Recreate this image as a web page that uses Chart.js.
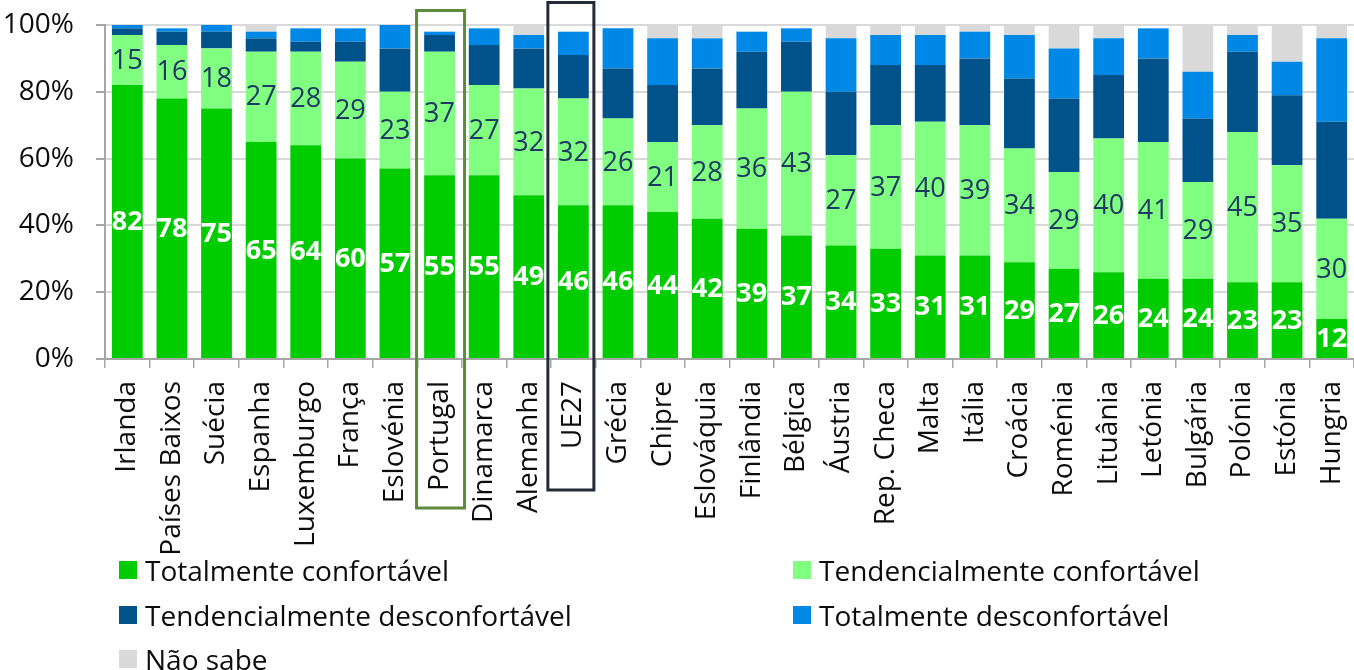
<!DOCTYPE html>
<html>
<head>
<meta charset="utf-8">
<script src="https://cdn.jsdelivr.net/npm/chart.js@4.4.1/dist/chart.umd.min.js"></script>
<style>
    body { margin: 0; background: #ffffff; overflow: hidden; }
    .chartbox { position: relative; width: 1354px; height: 670px; }
    #legend {
        position: absolute; left: 119px; top: 548px;
        display: grid; grid-template-columns: 674px auto; grid-auto-rows: 44.5px;
        font-family: 'Open Sans', sans-serif; font-size: 28px; color: #0d0d0d;
    }
    #legend .item { display: flex; align-items: center; white-space: nowrap; }
    #legend .box { width: 18px; height: 18px; margin-right: 8px; flex: none; }
</style>
</head>
<body>
<div class="chartbox">
    <canvas id="comfortchart"></canvas>
    <div id="legend"></div>
</div>
<script>
'use strict'

var paises = ['Irlanda', 'Países Baixos', 'Suécia', 'Espanha', 'Luxemburgo', 'França', 'Eslovénia', 'Portugal',
    'Dinamarca', 'Alemanha', 'UE27', 'Grécia', 'Chipre', 'Eslováquia', 'Finlândia', 'Bélgica', 'Áustria',
    'Rep. Checa', 'Malta', 'Itália', 'Croácia', 'Roménia', 'Lituânia', 'Letónia', 'Bulgária', 'Polónia',
    'Estónia', 'Hungria'];

var totalmenteConfortavel = [82, 78, 75, 65, 64, 60, 57, 55, 55, 49, 46, 46, 44, 42, 39, 37, 34, 33, 31, 31, 29, 27, 26, 24, 24, 23, 23, 12];
var tendConfortavel = [15, 16, 18, 27, 28, 29, 23, 37, 27, 32, 32, 26, 21, 28, 36, 43, 27, 37, 40, 39, 34, 29, 40, 41, 29, 45, 35, 30];
var tendDesconfortavel = [2, 4, 5, 4, 3, 6, 13, 5, 12, 12, 13, 15, 17, 17, 17, 15, 19, 18, 17, 20, 21, 22, 19, 25, 19, 24, 21, 29];
var totalmenteDesconfortavel = [1, 1, 2, 2, 4, 4, 7, 1, 5, 4, 7, 12, 14, 9, 6, 4, 16, 9, 9, 8, 13, 15, 11, 9, 14, 5, 10, 25];
var naoSabe = [0, 0, 0, 2, 0, 0, 0, 0, 0, 3, 0, 0, 4, 4, 0, 0, 4, 3, 3, 2, 3, 7, 4, 0, 14, 3, 11, 4];

var yTickLabels = ['0%', '20%', '40%', '60%', '80%', '100%'];

/* columns that get a frame around them */
var destaques = [
    { pais: 'Portugal', color: '#5b8b3b', half: 24, shift: 1, top: 10.5, bottom: 508 },
    { pais: 'UE27', color: '#232b38', half: 23, shift: -2.5, top: 2.5, bottom: 490 }
];

var fontFamily = "'Open Sans', sans-serif";

/* value labels in the middle of each segment */
var segmentLabels = {
    id: 'segmentLabels',
    afterDatasetsDraw: function (chart) {
        var ctx = chart.ctx;
        chart.data.datasets.forEach(function (ds, di) {
            if (!ds.valueLabel) return;
            var meta = chart.getDatasetMeta(di);
            ctx.save();
            ctx.font = ds.valueLabel.weight + ' 27px ' + fontFamily;
            ctx.fillStyle = ds.valueLabel.color;
            ctx.textAlign = 'center';
            ctx.textBaseline = 'middle';
            meta.data.forEach(function (bar, i) {
                var p = bar.getProps(['x', 'y', 'base'], true);
                ctx.fillText(String(ds.data[i]), p.x, (p.y + p.base) / 2 + 1);
            });
            ctx.restore();
        });
    }
};

/* frames around highlighted columns */
var columnFrames = {
    id: 'columnFrames',
    afterDraw: function (chart) {
        var ctx = chart.ctx;
        var x = chart.scales.x;
        ctx.save();
        ctx.lineWidth = 3;
        destaques.forEach(function (d) {
            var cx = x.getPixelForValue(paises.indexOf(d.pais)) + d.shift;
            ctx.strokeStyle = d.color;
            ctx.strokeRect(cx - d.half, d.top, d.half * 2, d.bottom - d.top);
        });
        ctx.restore();
    }
};

function serie(label, data, color, valueLabel) {
    return {
        label: label,
        data: data,
        backgroundColor: color,
        borderWidth: 0,
        barPercentage: 0.69,
        categoryPercentage: 1,
        valueLabel: valueLabel
    };
}

window.addEventListener('load', function () {
    var ctx = document.getElementById('comfortchart').getContext('2d');

    var config = {
        type: 'bar',
        data: {
            labels: paises,
            datasets: [
                serie('Totalmente confortável', totalmenteConfortavel, '#00cc00', { color: '#ffffff', weight: 'bold' }),
                serie('Tendencialmente confortável', tendConfortavel, '#80ff80', { color: '#1f3864', weight: 'normal' }),
                serie('Tendencialmente desconfortável', tendDesconfortavel, '#00528a', null),
                serie('Totalmente desconfortável', totalmenteDesconfortavel, '#0088e6', null),
                serie('Não sabe', naoSabe, '#d9d9d9', null)
            ]
        },
        options: {
            responsive: true,
            maintainAspectRatio: false,
            animation: false,
            layout: {
                padding: { top: 25, left: 0, right: 0, bottom: 0 }
            },
            plugins: {
                legend: { display: false },
                tooltip: { enabled: false }
            },
            scales: {
                x: {
                    stacked: true,
                    grid: {
                        offset: true,
                        drawOnChartArea: false,
                        tickLength: 9,
                        tickColor: '#a6a6a6',
                        lineWidth: 1.5
                    },
                    border: { color: '#a6a6a6', width: 2 },
                    ticks: {
                        autoSkip: false,
                        minRotation: 90,
                        maxRotation: 90,
                        padding: 13,
                        color: '#0d0d0d',
                        font: { family: fontFamily, size: 28 }
                    },
                    afterFit: function (scale) {
                        scale.height = 311;
                        scale.paddingLeft = 0;
                        scale.paddingRight = 0;
                    }
                },
                y: {
                    stacked: true,
                    min: 0,
                    max: 100,
                    ticks: {
                        stepSize: 20,
                        padding: 22,
                        color: '#0d0d0d',
                        font: { family: fontFamily, size: 28 },
                        callback: function (value) {
                            return yTickLabels[value / 20];
                        }
                    },
                    grid: {
                        color: '#d9d9d9',
                        lineWidth: 2,
                        tickLength: 9,
                        tickColor: '#a6a6a6'
                    },
                    border: { color: '#a6a6a6', width: 2 },
                    afterFit: function (scale) {
                        scale.width = 105;
                        scale.paddingTop = 0;
                        scale.paddingBottom = 0;
                    }
                }
            }
        },
        plugins: [segmentLabels, columnFrames]
    };

    var comfortChart = new Chart(ctx, config);

    /* legend in two columns under the chart */
    var legend = document.getElementById('legend');
    comfortChart.data.datasets.forEach(function (ds) {
        var item = document.createElement('div');
        item.className = 'item';
        var box = document.createElement('span');
        box.className = 'box';
        box.style.background = ds.backgroundColor;
        var text = document.createElement('span');
        text.textContent = ds.label;
        item.appendChild(box);
        item.appendChild(text);
        legend.appendChild(item);
    });
});
</script>
</body>
</html>
